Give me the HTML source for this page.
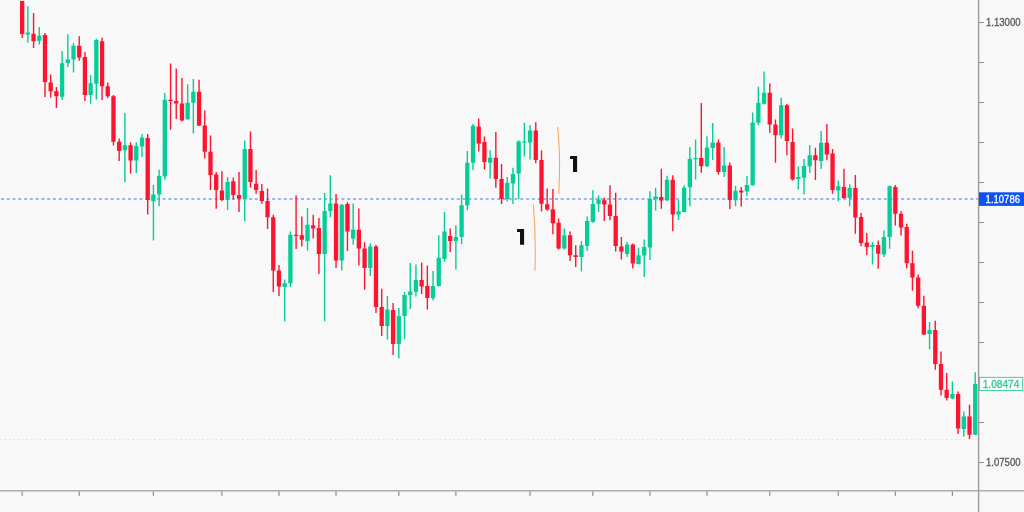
<!DOCTYPE html>
<html><head><meta charset="utf-8"><style>
html,body{margin:0;padding:0;background:#f8f8f8;width:1024px;height:512px;overflow:hidden}
svg{display:block;will-change:transform}
</style></head><body>
<svg width="1024" height="512" viewBox="0 0 1024 512">
<rect width="1024" height="512" fill="#f8f8f8"/>
<line x1="0" y1="439.5" x2="978" y2="439.5" stroke="#e2e2e2" stroke-width="1.2" stroke-dasharray="1.8 2.6"/>
<line x1="1" y1="199" x2="978" y2="199" stroke="#7a9ef5" stroke-width="1.3" stroke-dasharray="3 2.77"/>
<rect x="21.45" y="1.00" width="1.4" height="37.00" fill="#ff1430"/>
<rect x="20.00" y="1.00" width="4.3" height="33.00" fill="#ff1430"/>
<rect x="27.16" y="6.25" width="1.4" height="36.25" fill="#05cd97"/>
<rect x="25.71" y="32.50" width="4.3" height="2.00" fill="#05cd97"/>
<rect x="32.86" y="13.00" width="1.4" height="35.00" fill="#ff1430"/>
<rect x="31.41" y="33.75" width="4.3" height="7.50" fill="#ff1430"/>
<rect x="38.57" y="27.00" width="1.4" height="17.50" fill="#05cd97"/>
<rect x="37.12" y="35.75" width="4.3" height="5.00" fill="#05cd97"/>
<rect x="44.28" y="33.00" width="1.4" height="64.00" fill="#ff1430"/>
<rect x="42.83" y="35.00" width="4.3" height="47.00" fill="#ff1430"/>
<rect x="49.98" y="74.50" width="1.4" height="23.00" fill="#ff1430"/>
<rect x="48.54" y="82.50" width="4.3" height="8.75" fill="#ff1430"/>
<rect x="55.69" y="87.00" width="1.4" height="21.00" fill="#ff1430"/>
<rect x="54.24" y="91.25" width="4.3" height="5.00" fill="#ff1430"/>
<rect x="61.40" y="51.25" width="1.4" height="48.75" fill="#05cd97"/>
<rect x="59.95" y="63.25" width="4.3" height="33.50" fill="#05cd97"/>
<rect x="67.11" y="34.25" width="1.4" height="32.75" fill="#05cd97"/>
<rect x="65.66" y="59.50" width="4.3" height="3.50" fill="#05cd97"/>
<rect x="72.81" y="43.00" width="1.4" height="29.50" fill="#05cd97"/>
<rect x="71.36" y="45.75" width="4.3" height="13.75" fill="#05cd97"/>
<rect x="78.52" y="36.25" width="1.4" height="24.50" fill="#ff1430"/>
<rect x="77.07" y="45.75" width="4.3" height="11.75" fill="#ff1430"/>
<rect x="84.23" y="52.00" width="1.4" height="49.00" fill="#ff1430"/>
<rect x="82.78" y="57.00" width="4.3" height="38.00" fill="#ff1430"/>
<rect x="89.93" y="75.00" width="1.4" height="28.75" fill="#05cd97"/>
<rect x="88.48" y="83.25" width="4.3" height="11.75" fill="#05cd97"/>
<rect x="95.64" y="38.75" width="1.4" height="60.75" fill="#05cd97"/>
<rect x="94.19" y="40.00" width="4.3" height="43.75" fill="#05cd97"/>
<rect x="101.35" y="37.50" width="1.4" height="62.50" fill="#ff1430"/>
<rect x="99.90" y="41.25" width="4.3" height="45.00" fill="#ff1430"/>
<rect x="107.05" y="82.50" width="1.4" height="15.50" fill="#ff1430"/>
<rect x="105.60" y="86.25" width="4.3" height="10.00" fill="#ff1430"/>
<rect x="112.76" y="95.00" width="1.4" height="50.50" fill="#ff1430"/>
<rect x="111.31" y="96.25" width="4.3" height="45.50" fill="#ff1430"/>
<rect x="118.47" y="138.50" width="1.4" height="22.50" fill="#ff1430"/>
<rect x="117.02" y="141.75" width="4.3" height="9.25" fill="#ff1430"/>
<rect x="124.18" y="113.00" width="1.4" height="69.25" fill="#05cd97"/>
<rect x="122.73" y="145.25" width="4.3" height="5.00" fill="#05cd97"/>
<rect x="129.88" y="142.25" width="1.4" height="31.25" fill="#ff1430"/>
<rect x="128.43" y="145.25" width="4.3" height="15.25" fill="#ff1430"/>
<rect x="135.59" y="142.25" width="1.4" height="30.75" fill="#05cd97"/>
<rect x="134.14" y="146.00" width="4.3" height="14.50" fill="#05cd97"/>
<rect x="141.30" y="134.00" width="1.4" height="23.00" fill="#05cd97"/>
<rect x="139.85" y="137.50" width="4.3" height="9.00" fill="#05cd97"/>
<rect x="147.00" y="134.00" width="1.4" height="80.50" fill="#ff1430"/>
<rect x="145.55" y="138.00" width="4.3" height="62.00" fill="#ff1430"/>
<rect x="152.71" y="185.00" width="1.4" height="55.50" fill="#05cd97"/>
<rect x="151.26" y="194.50" width="4.3" height="6.75" fill="#05cd97"/>
<rect x="158.42" y="169.75" width="1.4" height="36.50" fill="#05cd97"/>
<rect x="156.97" y="176.00" width="4.3" height="18.50" fill="#05cd97"/>
<rect x="164.12" y="93.00" width="1.4" height="86.75" fill="#05cd97"/>
<rect x="162.67" y="99.75" width="4.3" height="76.75" fill="#05cd97"/>
<rect x="169.83" y="63.50" width="1.4" height="66.25" fill="#ff1430"/>
<rect x="168.38" y="99.75" width="4.3" height="1.25" fill="#ff1430"/>
<rect x="175.54" y="68.50" width="1.4" height="50.50" fill="#ff1430"/>
<rect x="174.09" y="101.00" width="4.3" height="2.50" fill="#ff1430"/>
<rect x="181.25" y="78.00" width="1.4" height="43.50" fill="#ff1430"/>
<rect x="179.80" y="103.50" width="4.3" height="17.00" fill="#ff1430"/>
<rect x="186.95" y="84.25" width="1.4" height="35.50" fill="#05cd97"/>
<rect x="185.50" y="102.75" width="4.3" height="16.50" fill="#05cd97"/>
<rect x="192.66" y="79.00" width="1.4" height="54.50" fill="#05cd97"/>
<rect x="191.21" y="91.75" width="4.3" height="11.00" fill="#05cd97"/>
<rect x="198.37" y="79.75" width="1.4" height="46.25" fill="#ff1430"/>
<rect x="196.92" y="91.75" width="4.3" height="33.75" fill="#ff1430"/>
<rect x="204.07" y="110.50" width="1.4" height="48.00" fill="#ff1430"/>
<rect x="202.62" y="125.50" width="4.3" height="26.25" fill="#ff1430"/>
<rect x="209.78" y="135.50" width="1.4" height="54.50" fill="#ff1430"/>
<rect x="208.33" y="151.75" width="4.3" height="23.25" fill="#ff1430"/>
<rect x="215.49" y="172.00" width="1.4" height="36.75" fill="#ff1430"/>
<rect x="214.04" y="174.50" width="4.3" height="15.50" fill="#ff1430"/>
<rect x="221.20" y="171.25" width="1.4" height="30.00" fill="#ff1430"/>
<rect x="219.75" y="190.50" width="4.3" height="9.50" fill="#ff1430"/>
<rect x="226.90" y="177.00" width="1.4" height="33.00" fill="#05cd97"/>
<rect x="225.45" y="182.00" width="4.3" height="18.00" fill="#05cd97"/>
<rect x="232.61" y="177.50" width="1.4" height="22.00" fill="#ff1430"/>
<rect x="231.16" y="181.25" width="4.3" height="13.75" fill="#ff1430"/>
<rect x="238.32" y="172.00" width="1.4" height="40.00" fill="#ff1430"/>
<rect x="236.87" y="195.00" width="4.3" height="3.75" fill="#ff1430"/>
<rect x="244.02" y="140.50" width="1.4" height="80.75" fill="#05cd97"/>
<rect x="242.57" y="149.00" width="4.3" height="49.75" fill="#05cd97"/>
<rect x="249.73" y="131.50" width="1.4" height="56.00" fill="#ff1430"/>
<rect x="248.28" y="149.00" width="4.3" height="33.00" fill="#ff1430"/>
<rect x="255.44" y="170.00" width="1.4" height="23.75" fill="#ff1430"/>
<rect x="253.99" y="183.75" width="4.3" height="6.25" fill="#ff1430"/>
<rect x="261.14" y="184.00" width="1.4" height="19.75" fill="#ff1430"/>
<rect x="259.69" y="191.00" width="4.3" height="10.00" fill="#ff1430"/>
<rect x="266.85" y="188.50" width="1.4" height="40.50" fill="#ff1430"/>
<rect x="265.40" y="201.00" width="4.3" height="16.25" fill="#ff1430"/>
<rect x="272.56" y="214.75" width="1.4" height="77.25" fill="#ff1430"/>
<rect x="271.11" y="217.25" width="4.3" height="53.25" fill="#ff1430"/>
<rect x="278.26" y="265.00" width="1.4" height="31.00" fill="#ff1430"/>
<rect x="276.81" y="270.50" width="4.3" height="16.00" fill="#ff1430"/>
<rect x="283.97" y="279.50" width="1.4" height="41.75" fill="#05cd97"/>
<rect x="282.52" y="283.25" width="4.3" height="3.75" fill="#05cd97"/>
<rect x="289.68" y="231.50" width="1.4" height="55.50" fill="#05cd97"/>
<rect x="288.23" y="234.75" width="4.3" height="48.50" fill="#05cd97"/>
<rect x="295.39" y="195.50" width="1.4" height="53.50" fill="#ff1430"/>
<rect x="293.94" y="234.75" width="4.3" height="1.25" fill="#ff1430"/>
<rect x="301.09" y="216.50" width="1.4" height="30.00" fill="#ff1430"/>
<rect x="299.64" y="235.25" width="4.3" height="4.50" fill="#ff1430"/>
<rect x="306.80" y="208.00" width="1.4" height="42.50" fill="#05cd97"/>
<rect x="305.35" y="224.75" width="4.3" height="16.25" fill="#05cd97"/>
<rect x="312.51" y="214.75" width="1.4" height="23.75" fill="#ff1430"/>
<rect x="311.06" y="225.25" width="4.3" height="3.25" fill="#ff1430"/>
<rect x="318.21" y="218.00" width="1.4" height="56.00" fill="#ff1430"/>
<rect x="316.76" y="228.00" width="4.3" height="26.00" fill="#ff1430"/>
<rect x="323.92" y="193.00" width="1.4" height="128.25" fill="#05cd97"/>
<rect x="322.47" y="211.00" width="4.3" height="43.00" fill="#05cd97"/>
<rect x="329.63" y="175.25" width="1.4" height="42.00" fill="#05cd97"/>
<rect x="328.18" y="203.50" width="4.3" height="7.50" fill="#05cd97"/>
<rect x="335.33" y="194.00" width="1.4" height="74.00" fill="#ff1430"/>
<rect x="333.88" y="203.50" width="4.3" height="57.00" fill="#ff1430"/>
<rect x="341.04" y="204.00" width="1.4" height="66.50" fill="#05cd97"/>
<rect x="339.59" y="204.75" width="4.3" height="55.75" fill="#05cd97"/>
<rect x="346.75" y="202.25" width="1.4" height="48.75" fill="#ff1430"/>
<rect x="345.30" y="204.00" width="4.3" height="27.50" fill="#ff1430"/>
<rect x="352.46" y="203.50" width="1.4" height="41.25" fill="#05cd97"/>
<rect x="351.01" y="229.75" width="4.3" height="8.75" fill="#05cd97"/>
<rect x="358.16" y="208.50" width="1.4" height="57.00" fill="#ff1430"/>
<rect x="356.71" y="229.75" width="4.3" height="18.75" fill="#ff1430"/>
<rect x="363.87" y="242.25" width="1.4" height="47.50" fill="#ff1430"/>
<rect x="362.42" y="248.50" width="4.3" height="19.50" fill="#ff1430"/>
<rect x="369.58" y="243.50" width="1.4" height="32.50" fill="#05cd97"/>
<rect x="368.13" y="246.50" width="4.3" height="21.50" fill="#05cd97"/>
<rect x="375.28" y="245.00" width="1.4" height="68.00" fill="#ff1430"/>
<rect x="373.83" y="246.50" width="4.3" height="60.50" fill="#ff1430"/>
<rect x="380.99" y="288.75" width="1.4" height="47.25" fill="#ff1430"/>
<rect x="379.54" y="307.00" width="4.3" height="19.00" fill="#ff1430"/>
<rect x="386.70" y="296.00" width="1.4" height="43.50" fill="#05cd97"/>
<rect x="385.25" y="309.50" width="4.3" height="16.50" fill="#05cd97"/>
<rect x="392.40" y="303.00" width="1.4" height="52.00" fill="#ff1430"/>
<rect x="390.95" y="310.00" width="4.3" height="34.00" fill="#ff1430"/>
<rect x="398.11" y="308.00" width="1.4" height="50.50" fill="#05cd97"/>
<rect x="396.66" y="316.25" width="4.3" height="27.75" fill="#05cd97"/>
<rect x="403.82" y="292.00" width="1.4" height="47.25" fill="#05cd97"/>
<rect x="402.37" y="295.00" width="4.3" height="21.00" fill="#05cd97"/>
<rect x="409.53" y="263.00" width="1.4" height="46.00" fill="#05cd97"/>
<rect x="408.08" y="291.50" width="4.3" height="3.75" fill="#05cd97"/>
<rect x="415.23" y="264.50" width="1.4" height="32.00" fill="#05cd97"/>
<rect x="413.78" y="280.00" width="4.3" height="11.75" fill="#05cd97"/>
<rect x="420.94" y="262.50" width="1.4" height="31.50" fill="#ff1430"/>
<rect x="419.49" y="280.00" width="4.3" height="6.50" fill="#ff1430"/>
<rect x="426.65" y="265.50" width="1.4" height="44.00" fill="#ff1430"/>
<rect x="425.20" y="286.00" width="4.3" height="12.00" fill="#ff1430"/>
<rect x="432.35" y="271.00" width="1.4" height="29.50" fill="#05cd97"/>
<rect x="430.90" y="286.00" width="4.3" height="12.25" fill="#05cd97"/>
<rect x="438.06" y="235.25" width="1.4" height="51.25" fill="#05cd97"/>
<rect x="436.61" y="257.75" width="4.3" height="28.25" fill="#05cd97"/>
<rect x="443.77" y="212.00" width="1.4" height="50.00" fill="#05cd97"/>
<rect x="442.32" y="231.50" width="4.3" height="27.50" fill="#05cd97"/>
<rect x="449.47" y="228.50" width="1.4" height="23.50" fill="#ff1430"/>
<rect x="448.02" y="236.00" width="4.3" height="5.00" fill="#ff1430"/>
<rect x="455.18" y="225.25" width="1.4" height="44.25" fill="#05cd97"/>
<rect x="453.73" y="237.00" width="4.3" height="4.00" fill="#05cd97"/>
<rect x="460.89" y="194.50" width="1.4" height="49.50" fill="#05cd97"/>
<rect x="459.44" y="205.25" width="4.3" height="31.75" fill="#05cd97"/>
<rect x="466.60" y="151.00" width="1.4" height="59.25" fill="#05cd97"/>
<rect x="465.15" y="162.75" width="4.3" height="42.50" fill="#05cd97"/>
<rect x="472.30" y="124.00" width="1.4" height="46.25" fill="#05cd97"/>
<rect x="470.85" y="125.75" width="4.3" height="37.00" fill="#05cd97"/>
<rect x="478.01" y="118.50" width="1.4" height="33.00" fill="#ff1430"/>
<rect x="476.56" y="126.50" width="4.3" height="17.00" fill="#ff1430"/>
<rect x="483.72" y="136.50" width="1.4" height="33.00" fill="#ff1430"/>
<rect x="482.27" y="142.00" width="4.3" height="20.00" fill="#ff1430"/>
<rect x="489.42" y="150.25" width="1.4" height="28.25" fill="#05cd97"/>
<rect x="487.97" y="157.75" width="4.3" height="5.00" fill="#05cd97"/>
<rect x="495.13" y="132.00" width="1.4" height="55.75" fill="#ff1430"/>
<rect x="493.68" y="157.75" width="4.3" height="21.25" fill="#ff1430"/>
<rect x="500.84" y="164.00" width="1.4" height="40.00" fill="#ff1430"/>
<rect x="499.39" y="179.00" width="4.3" height="20.00" fill="#ff1430"/>
<rect x="506.54" y="177.00" width="1.4" height="24.50" fill="#05cd97"/>
<rect x="505.09" y="182.75" width="4.3" height="16.25" fill="#05cd97"/>
<rect x="512.25" y="167.75" width="1.4" height="36.25" fill="#05cd97"/>
<rect x="510.80" y="174.00" width="4.3" height="9.50" fill="#05cd97"/>
<rect x="517.96" y="140.25" width="1.4" height="58.75" fill="#05cd97"/>
<rect x="516.51" y="141.50" width="4.3" height="32.00" fill="#05cd97"/>
<rect x="523.67" y="122.75" width="1.4" height="33.75" fill="#05cd97"/>
<rect x="522.22" y="141.50" width="4.3" height="1.25" fill="#05cd97"/>
<rect x="529.37" y="125.00" width="1.4" height="34.50" fill="#05cd97"/>
<rect x="527.92" y="130.50" width="4.3" height="12.00" fill="#05cd97"/>
<rect x="535.08" y="122.25" width="1.4" height="41.00" fill="#ff1430"/>
<rect x="533.63" y="130.50" width="4.3" height="29.50" fill="#ff1430"/>
<rect x="540.79" y="150.50" width="1.4" height="61.00" fill="#ff1430"/>
<rect x="539.34" y="160.00" width="4.3" height="43.75" fill="#ff1430"/>
<rect x="546.49" y="188.50" width="1.4" height="22.25" fill="#ff1430"/>
<rect x="545.04" y="204.25" width="4.3" height="5.25" fill="#ff1430"/>
<rect x="552.20" y="189.00" width="1.4" height="45.25" fill="#ff1430"/>
<rect x="550.75" y="209.25" width="4.3" height="14.00" fill="#ff1430"/>
<rect x="557.91" y="218.50" width="1.4" height="31.00" fill="#ff1430"/>
<rect x="556.46" y="222.75" width="4.3" height="25.75" fill="#ff1430"/>
<rect x="563.61" y="228.50" width="1.4" height="21.00" fill="#05cd97"/>
<rect x="562.16" y="235.25" width="4.3" height="13.25" fill="#05cd97"/>
<rect x="569.32" y="231.50" width="1.4" height="29.50" fill="#ff1430"/>
<rect x="567.87" y="235.25" width="4.3" height="20.00" fill="#ff1430"/>
<rect x="575.03" y="245.25" width="1.4" height="21.75" fill="#ff1430"/>
<rect x="573.58" y="255.25" width="4.3" height="1.75" fill="#ff1430"/>
<rect x="580.74" y="241.00" width="1.4" height="30.50" fill="#05cd97"/>
<rect x="579.29" y="245.25" width="4.3" height="11.75" fill="#05cd97"/>
<rect x="586.44" y="216.50" width="1.4" height="34.50" fill="#05cd97"/>
<rect x="584.99" y="221.00" width="4.3" height="25.00" fill="#05cd97"/>
<rect x="592.15" y="190.25" width="1.4" height="32.50" fill="#05cd97"/>
<rect x="590.70" y="204.00" width="4.3" height="18.00" fill="#05cd97"/>
<rect x="597.86" y="195.25" width="1.4" height="16.75" fill="#05cd97"/>
<rect x="596.41" y="199.50" width="4.3" height="4.50" fill="#05cd97"/>
<rect x="603.56" y="197.75" width="1.4" height="23.25" fill="#ff1430"/>
<rect x="602.11" y="200.25" width="4.3" height="4.25" fill="#ff1430"/>
<rect x="609.27" y="185.25" width="1.4" height="35.00" fill="#ff1430"/>
<rect x="607.82" y="204.50" width="4.3" height="11.50" fill="#ff1430"/>
<rect x="614.98" y="192.75" width="1.4" height="58.75" fill="#ff1430"/>
<rect x="613.53" y="216.00" width="4.3" height="30.00" fill="#ff1430"/>
<rect x="620.68" y="237.00" width="1.4" height="22.50" fill="#ff1430"/>
<rect x="619.24" y="246.50" width="4.3" height="5.00" fill="#ff1430"/>
<rect x="626.39" y="242.00" width="1.4" height="15.00" fill="#05cd97"/>
<rect x="624.94" y="244.50" width="4.3" height="9.50" fill="#05cd97"/>
<rect x="632.10" y="243.50" width="1.4" height="25.00" fill="#ff1430"/>
<rect x="630.65" y="244.50" width="4.3" height="19.00" fill="#ff1430"/>
<rect x="637.81" y="247.75" width="1.4" height="16.75" fill="#05cd97"/>
<rect x="636.36" y="255.25" width="4.3" height="8.75" fill="#05cd97"/>
<rect x="643.51" y="239.50" width="1.4" height="37.50" fill="#05cd97"/>
<rect x="642.06" y="247.00" width="4.3" height="8.50" fill="#05cd97"/>
<rect x="649.22" y="191.25" width="1.4" height="68.75" fill="#05cd97"/>
<rect x="647.77" y="199.00" width="4.3" height="48.50" fill="#05cd97"/>
<rect x="654.93" y="187.75" width="1.4" height="22.75" fill="#05cd97"/>
<rect x="653.48" y="196.50" width="4.3" height="2.75" fill="#05cd97"/>
<rect x="660.63" y="168.75" width="1.4" height="40.00" fill="#ff1430"/>
<rect x="659.18" y="197.00" width="4.3" height="3.50" fill="#ff1430"/>
<rect x="666.34" y="175.75" width="1.4" height="25.50" fill="#05cd97"/>
<rect x="664.89" y="179.75" width="4.3" height="20.50" fill="#05cd97"/>
<rect x="672.05" y="175.25" width="1.4" height="56.00" fill="#ff1430"/>
<rect x="670.60" y="179.75" width="4.3" height="34.75" fill="#ff1430"/>
<rect x="677.75" y="200.00" width="1.4" height="20.00" fill="#05cd97"/>
<rect x="676.30" y="211.25" width="4.3" height="3.25" fill="#05cd97"/>
<rect x="683.46" y="185.25" width="1.4" height="27.25" fill="#05cd97"/>
<rect x="682.01" y="187.75" width="4.3" height="24.25" fill="#05cd97"/>
<rect x="689.17" y="147.00" width="1.4" height="59.25" fill="#05cd97"/>
<rect x="687.72" y="158.75" width="4.3" height="28.50" fill="#05cd97"/>
<rect x="694.88" y="139.50" width="1.4" height="40.00" fill="#05cd97"/>
<rect x="693.43" y="158.00" width="4.3" height="1.20" fill="#05cd97"/>
<rect x="700.58" y="103.00" width="1.4" height="69.75" fill="#ff1430"/>
<rect x="699.13" y="158.00" width="4.3" height="8.25" fill="#ff1430"/>
<rect x="706.29" y="136.25" width="1.4" height="30.75" fill="#05cd97"/>
<rect x="704.84" y="147.50" width="4.3" height="18.75" fill="#05cd97"/>
<rect x="712.00" y="123.00" width="1.4" height="37.00" fill="#05cd97"/>
<rect x="710.55" y="142.50" width="4.3" height="5.50" fill="#05cd97"/>
<rect x="717.70" y="139.50" width="1.4" height="35.00" fill="#ff1430"/>
<rect x="716.25" y="142.50" width="4.3" height="29.50" fill="#ff1430"/>
<rect x="723.41" y="147.00" width="1.4" height="30.00" fill="#05cd97"/>
<rect x="721.96" y="165.50" width="4.3" height="6.50" fill="#05cd97"/>
<rect x="729.12" y="162.50" width="1.4" height="46.50" fill="#ff1430"/>
<rect x="727.67" y="165.50" width="4.3" height="34.50" fill="#ff1430"/>
<rect x="734.82" y="185.75" width="1.4" height="20.50" fill="#05cd97"/>
<rect x="733.38" y="190.75" width="4.3" height="9.50" fill="#05cd97"/>
<rect x="740.53" y="187.00" width="1.4" height="19.50" fill="#ff1430"/>
<rect x="739.08" y="190.50" width="4.3" height="2.00" fill="#ff1430"/>
<rect x="746.24" y="176.25" width="1.4" height="20.00" fill="#05cd97"/>
<rect x="744.79" y="185.00" width="4.3" height="6.50" fill="#05cd97"/>
<rect x="751.95" y="112.50" width="1.4" height="73.00" fill="#05cd97"/>
<rect x="750.50" y="122.50" width="4.3" height="62.75" fill="#05cd97"/>
<rect x="757.65" y="86.75" width="1.4" height="38.50" fill="#05cd97"/>
<rect x="756.20" y="102.75" width="4.3" height="20.00" fill="#05cd97"/>
<rect x="763.36" y="71.50" width="1.4" height="33.00" fill="#05cd97"/>
<rect x="761.91" y="92.75" width="4.3" height="11.00" fill="#05cd97"/>
<rect x="769.07" y="83.50" width="1.4" height="49.25" fill="#ff1430"/>
<rect x="767.62" y="92.75" width="4.3" height="31.75" fill="#ff1430"/>
<rect x="774.77" y="119.50" width="1.4" height="43.25" fill="#ff1430"/>
<rect x="773.32" y="124.50" width="4.3" height="10.75" fill="#ff1430"/>
<rect x="780.48" y="97.75" width="1.4" height="40.75" fill="#05cd97"/>
<rect x="779.03" y="105.25" width="4.3" height="30.00" fill="#05cd97"/>
<rect x="786.19" y="104.00" width="1.4" height="51.25" fill="#ff1430"/>
<rect x="784.74" y="105.25" width="4.3" height="35.75" fill="#ff1430"/>
<rect x="791.89" y="128.50" width="1.4" height="52.00" fill="#ff1430"/>
<rect x="790.44" y="142.00" width="4.3" height="37.50" fill="#ff1430"/>
<rect x="797.60" y="166.50" width="1.4" height="23.00" fill="#05cd97"/>
<rect x="796.15" y="177.00" width="4.3" height="2.00" fill="#05cd97"/>
<rect x="803.31" y="159.00" width="1.4" height="35.50" fill="#05cd97"/>
<rect x="801.86" y="166.00" width="4.3" height="11.75" fill="#05cd97"/>
<rect x="809.02" y="145.25" width="1.4" height="27.50" fill="#05cd97"/>
<rect x="807.57" y="155.25" width="4.3" height="11.00" fill="#05cd97"/>
<rect x="814.72" y="147.75" width="1.4" height="32.25" fill="#ff1430"/>
<rect x="813.27" y="155.25" width="4.3" height="5.00" fill="#ff1430"/>
<rect x="820.43" y="131.00" width="1.4" height="38.00" fill="#05cd97"/>
<rect x="818.98" y="142.75" width="4.3" height="18.25" fill="#05cd97"/>
<rect x="826.14" y="124.00" width="1.4" height="36.25" fill="#ff1430"/>
<rect x="824.69" y="142.75" width="4.3" height="11.75" fill="#ff1430"/>
<rect x="831.84" y="149.00" width="1.4" height="44.75" fill="#ff1430"/>
<rect x="830.39" y="153.50" width="4.3" height="36.50" fill="#ff1430"/>
<rect x="837.55" y="180.50" width="1.4" height="20.75" fill="#05cd97"/>
<rect x="836.10" y="186.25" width="4.3" height="4.25" fill="#05cd97"/>
<rect x="843.26" y="168.75" width="1.4" height="30.00" fill="#ff1430"/>
<rect x="841.81" y="187.00" width="4.3" height="11.00" fill="#ff1430"/>
<rect x="848.96" y="184.25" width="1.4" height="22.00" fill="#05cd97"/>
<rect x="847.51" y="188.00" width="4.3" height="10.00" fill="#05cd97"/>
<rect x="854.67" y="175.00" width="1.4" height="58.75" fill="#ff1430"/>
<rect x="853.22" y="188.00" width="4.3" height="29.50" fill="#ff1430"/>
<rect x="860.38" y="213.00" width="1.4" height="33.25" fill="#ff1430"/>
<rect x="858.93" y="217.00" width="4.3" height="26.00" fill="#ff1430"/>
<rect x="866.09" y="233.00" width="1.4" height="22.00" fill="#ff1430"/>
<rect x="864.64" y="242.50" width="4.3" height="4.50" fill="#ff1430"/>
<rect x="871.79" y="242.00" width="1.4" height="22.50" fill="#05cd97"/>
<rect x="870.34" y="245.00" width="4.3" height="2.00" fill="#05cd97"/>
<rect x="877.50" y="240.50" width="1.4" height="28.25" fill="#ff1430"/>
<rect x="876.05" y="245.00" width="4.3" height="8.75" fill="#ff1430"/>
<rect x="883.21" y="230.50" width="1.4" height="26.50" fill="#05cd97"/>
<rect x="881.76" y="237.00" width="4.3" height="17.50" fill="#05cd97"/>
<rect x="888.91" y="185.50" width="1.4" height="63.25" fill="#05cd97"/>
<rect x="887.46" y="186.25" width="4.3" height="50.75" fill="#05cd97"/>
<rect x="894.62" y="185.00" width="1.4" height="40.50" fill="#ff1430"/>
<rect x="893.17" y="187.00" width="4.3" height="26.75" fill="#ff1430"/>
<rect x="900.33" y="211.25" width="1.4" height="24.25" fill="#ff1430"/>
<rect x="898.88" y="213.75" width="4.3" height="13.75" fill="#ff1430"/>
<rect x="906.03" y="223.75" width="1.4" height="44.50" fill="#ff1430"/>
<rect x="904.58" y="227.00" width="4.3" height="36.25" fill="#ff1430"/>
<rect x="911.74" y="250.75" width="1.4" height="40.00" fill="#ff1430"/>
<rect x="910.29" y="263.25" width="4.3" height="14.25" fill="#ff1430"/>
<rect x="917.45" y="274.50" width="1.4" height="33.75" fill="#ff1430"/>
<rect x="916.00" y="277.50" width="4.3" height="28.25" fill="#ff1430"/>
<rect x="923.16" y="295.75" width="1.4" height="39.25" fill="#ff1430"/>
<rect x="921.71" y="305.75" width="4.3" height="28.75" fill="#ff1430"/>
<rect x="928.86" y="322.00" width="1.4" height="27.50" fill="#05cd97"/>
<rect x="927.41" y="330.00" width="4.3" height="4.00" fill="#05cd97"/>
<rect x="934.57" y="320.75" width="1.4" height="49.00" fill="#ff1430"/>
<rect x="933.12" y="330.00" width="4.3" height="34.00" fill="#ff1430"/>
<rect x="940.28" y="351.50" width="1.4" height="44.00" fill="#ff1430"/>
<rect x="938.83" y="364.00" width="4.3" height="25.75" fill="#ff1430"/>
<rect x="945.98" y="373.00" width="1.4" height="27.50" fill="#ff1430"/>
<rect x="944.53" y="389.75" width="4.3" height="8.25" fill="#ff1430"/>
<rect x="951.69" y="381.50" width="1.4" height="17.50" fill="#05cd97"/>
<rect x="950.24" y="394.00" width="4.3" height="4.50" fill="#05cd97"/>
<rect x="957.40" y="391.50" width="1.4" height="42.50" fill="#ff1430"/>
<rect x="955.95" y="394.00" width="4.3" height="34.50" fill="#ff1430"/>
<rect x="963.10" y="411.50" width="1.4" height="25.00" fill="#05cd97"/>
<rect x="961.65" y="416.50" width="4.3" height="12.50" fill="#05cd97"/>
<rect x="968.81" y="404.75" width="1.4" height="34.25" fill="#ff1430"/>
<rect x="967.36" y="416.50" width="4.3" height="18.25" fill="#ff1430"/>
<rect x="974.52" y="372.25" width="1.4" height="62.75" fill="#05cd97"/>
<rect x="973.07" y="384.00" width="4.3" height="50.75" fill="#05cd97"/>
<path d="M557.7 127 C559.9 148 560.1 172 558.7 193.6" stroke="#f6a558" stroke-width="1.05" fill="none"/>
<path d="M533.4 204.5 C535.2 226 535.6 250 535 270.8" stroke="#f6a558" stroke-width="1.05" fill="none"/>
<path d="M570 156 H577.1 V172.1 H573 V159.1 H570 Z" fill="#111" stroke="#fff" stroke-width="0.8" paint-order="stroke"/>
<path d="M517 229 H524.1 V244.8 H520 V232.1 H517 Z" fill="#111" stroke="#fff" stroke-width="0.8" paint-order="stroke"/>
<rect x="977.9" y="0" width="1.4" height="512" fill="#9a9a9a"/>
<rect x="0" y="490" width="1024" height="1.5" fill="#acacac"/>
<rect x="979.3" y="21.95" width="4.5" height="1.1" fill="#8c8c8c"/>
<rect x="979.3" y="61.95" width="4.5" height="1.1" fill="#8c8c8c"/>
<rect x="979.3" y="101.95" width="4.5" height="1.1" fill="#8c8c8c"/>
<rect x="979.3" y="141.95" width="4.5" height="1.1" fill="#8c8c8c"/>
<rect x="979.3" y="181.95" width="4.5" height="1.1" fill="#8c8c8c"/>
<rect x="979.3" y="221.95" width="4.5" height="1.1" fill="#8c8c8c"/>
<rect x="979.3" y="261.95" width="4.5" height="1.1" fill="#8c8c8c"/>
<rect x="979.3" y="301.95" width="4.5" height="1.1" fill="#8c8c8c"/>
<rect x="979.3" y="341.95" width="4.5" height="1.1" fill="#8c8c8c"/>
<rect x="979.3" y="381.95" width="4.5" height="1.1" fill="#8c8c8c"/>
<rect x="979.3" y="421.95" width="4.5" height="1.1" fill="#8c8c8c"/>
<rect x="979.3" y="461.95" width="4.5" height="1.1" fill="#8c8c8c"/>
<rect x="21.55" y="491.5" width="1.2" height="4.3" fill="#8a8a8a"/>
<rect x="78.62" y="491.5" width="1.2" height="4.3" fill="#8a8a8a"/>
<rect x="152.81" y="491.5" width="1.2" height="4.3" fill="#8a8a8a"/>
<rect x="221.30" y="491.5" width="1.2" height="4.3" fill="#8a8a8a"/>
<rect x="278.36" y="491.5" width="1.2" height="4.3" fill="#8a8a8a"/>
<rect x="335.43" y="491.5" width="1.2" height="4.3" fill="#8a8a8a"/>
<rect x="398.21" y="491.5" width="1.2" height="4.3" fill="#8a8a8a"/>
<rect x="455.28" y="491.5" width="1.2" height="4.3" fill="#8a8a8a"/>
<rect x="529.47" y="491.5" width="1.2" height="4.3" fill="#8a8a8a"/>
<rect x="592.25" y="491.5" width="1.2" height="4.3" fill="#8a8a8a"/>
<rect x="649.32" y="491.5" width="1.2" height="4.3" fill="#8a8a8a"/>
<rect x="706.39" y="491.5" width="1.2" height="4.3" fill="#8a8a8a"/>
<rect x="769.17" y="491.5" width="1.2" height="4.3" fill="#8a8a8a"/>
<rect x="837.65" y="491.5" width="1.2" height="4.3" fill="#8a8a8a"/>
<rect x="894.72" y="491.5" width="1.2" height="4.3" fill="#8a8a8a"/>
<rect x="951.79" y="491.5" width="1.2" height="4.3" fill="#8a8a8a"/>
<text x="986" y="25.6" font-family="Liberation Sans" font-size="10.1" textLength="34.6" lengthAdjust="spacingAndGlyphs" fill="#5a5a5a" stroke="#5a5a5a" stroke-width="0.3">1.13000</text>
<text x="986" y="465.5" font-family="Liberation Sans" font-size="10.1" textLength="34.6" lengthAdjust="spacingAndGlyphs" fill="#5a5a5a" stroke="#5a5a5a" stroke-width="0.3">1.07500</text>
<rect x="979" y="192.3" width="45" height="13.6" fill="#0a52f5"/>
<text x="985.6" y="202.8" font-family="Liberation Sans" font-size="10.6" textLength="34.4" lengthAdjust="spacingAndGlyphs" fill="#fff" stroke="#fff" stroke-width="0.3">1.10786</text>
<rect x="979.6" y="377.4" width="43.1" height="13.1" fill="#fdfdfd" stroke="#45cd9c" stroke-width="1"/>
<text x="982.7" y="387.6" font-family="Liberation Sans" font-size="10.2" textLength="36.6" lengthAdjust="spacingAndGlyphs" fill="#30c894" stroke="#30c894" stroke-width="0.3">1.08474</text>
</svg>
</body></html>
